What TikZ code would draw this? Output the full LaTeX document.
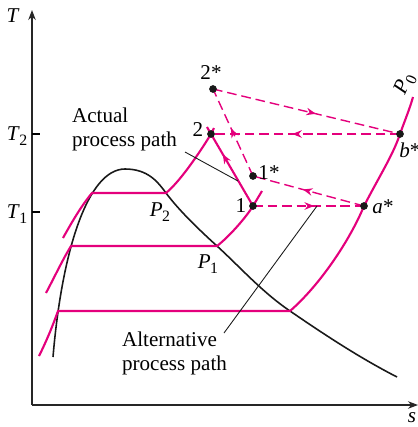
\documentclass[tikz,border=0pt]{standalone}
\usepackage{fontspec}
\setmainfont{Liberation Serif}
\usetikzlibrary{arrows.meta, decorations.markings}

\definecolor{isopink}{RGB}{228,0,124}
\newcommand{\sublbl}[2]{\textit{#1}\kern-0.3pt\raisebox{-0.5ex}{\fontsize{9}{9}\selectfont #2}}

\begin{document}
\begin{tikzpicture}[
    x=0.02cm, y=-0.02cm,
    font=\fontsize{12}{13.4}\selectfont,
    axis/.style={-{Stealth[length=2mm, width=1.5mm]}, line width=0.6pt, draw=black!85},
    dome/.style={line width=0.9pt, draw=black!90},
    isobar/.style={line width=1.2pt, isopink},
    procline/.style={line width=1.2pt, isopink},
    altline/.style={line width=0.8pt, isopink, dash pattern=on 5.5pt off 2.8pt},
    midarrow/.style={postaction={decorate}, decoration={markings,
        mark=at position #1 with {\arrow{Stealth[length=1.9mm, width=1.5mm]}}}},
    midarrow/.default=0.55,
    dot/.style={circle, fill=black!90, inner sep=0pt, minimum size=4.4pt},
    leader/.style={line width=0.5pt, draw=black!90},
    note/.style={align=left, inner sep=1pt, anchor=north west}
]

    \useasboundingbox (0,0) rectangle (418,427);

    % Axes
    \coordinate (origin) at (32,405);
    \coordinate (ttop) at (32,10);
    \coordinate (sright) at (418,405);
    \draw[axis] (origin) -- (ttop);
    \draw[axis] (origin) -- (sright);
    \node (tlabel) at (13,16) {\textit{T}};
    \node (slabel) at (412,418) {\textit{s}};

    % Ticks
    \draw[line width=0.6pt] (32,134) -- (40,134);
    \draw[line width=0.6pt] (32,212) -- (40,212);
    \node (ttwo) at (17,136) {\sublbl{T}{2}};
    \node (tone) at (17,214) {\sublbl{T}{1}};

    % State points
    \coordinate (one) at (253,206);
    \coordinate (two) at (211,134);
    \coordinate (onestar) at (253,176);
    \coordinate (twostar) at (213,89);
    \coordinate (astar) at (364,206);
    \coordinate (bstar) at (400,134);

    % Saturation dome
    \coordinate (l2) at (92,193);
    \coordinate (r2) at (166,193);
    \coordinate (l1) at (71,246);
    \coordinate (r1) at (217,246);
    \coordinate (l0) at (58,311);
    \coordinate (r0) at (290,311);
    \coordinate (peak) at (125,169);
    \draw[dome] (53,357) .. controls (62,250) and (88,169) .. (peak)
        .. controls (148,169) and (158,182) .. (r2)
        .. controls (178,209) and (195,226) .. (r1)
        .. controls (240,267) and (262,292) .. (r0)
        .. controls (325,335) and (360,358) .. (397,377);

    % Isobars
    \draw[isobar] (63,238) .. controls (73,220) and (82,205) .. (l2) -- (r2)
        .. controls (182,180) and (205,144) .. (two) -- (214,128);
    \draw[isobar] (46,293) .. controls (55,276) and (63,259) .. (l1) -- (r1)
        .. controls (230,236) and (247,216) .. (one) -- (262,191);
    \draw[isobar] (39,356) .. controls (47,340) and (53,325) .. (l0) -- (r0)
        .. controls (320,285) and (350,240) .. (astar)
        .. controls (380,175) and (393,155) .. (bstar)
        .. controls (405,120) and (410,108) .. (413,97);
    \node[rotate=66] (pzero) at (405,84) {\sublbl{P}{0}};
    \node (ptwo) at (160,212) {\sublbl{P}{2}};
    \node (pone) at (208,264) {\sublbl{P}{1}};

    % Actual process 1 -> 2
    \draw[procline, midarrow=0.72] (one) -- (two);
    \draw[procline] (two) -- (207,127);

    % Alternative process
    \draw[altline, midarrow=0.55] (one) -- (astar);
    \draw[altline, midarrow=0.55] (astar) -- (onestar);
    \draw[altline, midarrow=0.55] (onestar) -- (twostar);
    \draw[altline, midarrow=0.55] (twostar) -- (bstar);
    \draw[altline, midarrow=0.57] (bstar) -- (two);

    % Dots
    \foreach \p in {one, two, onestar, twostar, astar, bstar}
        \node[dot] (\p dot) at (\p) {};

    % Point labels
    \node (lbltwostar) at (211,73) {2*};
    \node (lbltwo) at (198,130) {2};
    \node (lblonestar) at (269,173) {1*};
    \node (lblone) at (241,206) {1};
    \node (lblastar) at (383,207) {\textit{a}*};
    \node (lblbstar) at (410,150) {\textit{b}*};

    % Path notes
    \node[note] (actual) at (70,106) {Actual\\process path};
    \coordinate (actualfoot) at (185,152);
    \coordinate (actualtip) at (238,181);
    \draw[leader] (actualfoot) -- (actualtip);

    \node[note] (alt) at (120,330) {Alternative\\process path};
    \coordinate (altfoot) at (224,333);
    \coordinate (alttip) at (317,206);
    \draw[leader] (altfoot) -- (alttip);

\end{tikzpicture}
\end{document}
